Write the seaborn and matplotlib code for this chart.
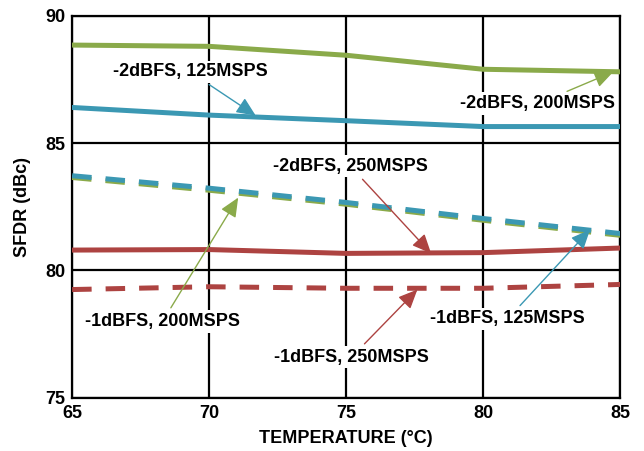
import matplotlib
matplotlib.use("Agg")
import matplotlib.pyplot as plt
import seaborn as sns
import pandas as pd

# temperatures and SFDR readings (dBc)
temperature = [65, 70, 75, 80, 85]
sfdr_2dbfs_200 = [88.85, 88.8, 88.45, 87.9, 87.8]
sfdr_2dbfs_125 = [86.4, 86.1, 85.88, 85.65, 85.65]
sfdr_1dbfs_200 = [83.65, 83.15, 82.6, 81.97, 81.38]
sfdr_1dbfs_125 = [83.72, 83.23, 82.67, 82.04, 81.45]
sfdr_2dbfs_250 = [80.8, 80.82, 80.67, 80.7, 80.88]
sfdr_1dbfs_250 = [79.25, 79.36, 79.3, 79.3, 79.45]

green = "#8aaa4a"
blue = "#3b98b3"
red = "#ad4341"

sns.set_style("white")
plt.rcParams["font.family"] = ["Liberation Sans", "DejaVu Sans"]
plt.rcParams["font.weight"] = "bold"
plt.rcParams.update({"text.color": "black", "axes.labelcolor": "black",
                     "xtick.color": "black", "ytick.color": "black"})

fig = plt.figure(figsize=(6.44, 4.51), dpi=100)
ax = fig.add_axes([0.112, 0.118, 0.851, 0.847])

dash = (0, (3.9, 2.8))
series = [
    (sfdr_2dbfs_200, green, "-", 3.6),
    (sfdr_2dbfs_125, blue, "-", 3.6),
    (sfdr_1dbfs_200, green, dash, 3.6),
    (sfdr_1dbfs_125, blue, dash, 3.6),
    (sfdr_2dbfs_250, red, "-", 3.6),
    (sfdr_1dbfs_250, red, dash, 3.6),
]
for vals, col, ls, lw in series:
    df = pd.DataFrame({"temp": temperature, "sfdr": vals})
    sns.lineplot(data=df, x="temp", y="sfdr", color=col, linewidth=lw,
                 linestyle=ls, ax=ax, zorder=3)

ax.set_xlim(65, 85)
ax.set_ylim(75, 90)
ax.set_xticks([65, 70, 75, 80, 85])
ax.set_yticks([75, 80, 85, 90])
ax.grid(True, color="black", linewidth=1.6, zorder=0)
ax.set_axisbelow(True)
for s in ax.spines.values():
    s.set_color("black")
    s.set_linewidth(1.6)
ax.tick_params(labelsize=13, length=0, pad=5, colors="black")
for lbl in ax.get_xticklabels() + ax.get_yticklabels():
    lbl.set_fontweight("bold")
ax.set_xlabel("TEMPERATURE (°C)", fontsize=13, fontweight="bold", labelpad=6)
ax.set_ylabel("SFDR (dBc)", fontsize=13, fontweight="bold", labelpad=10)

box = dict(boxstyle="square,pad=0.15", fc="white", ec="none")
notes = [
    ("-2dBFS, 125MSPS", (71.7, 86.08), (69.3, 87.8), blue),
    ("-2dBFS, 200MSPS", (84.75, 87.8), (82.0, 86.55), green),
    ("-2dBFS, 250MSPS", (78.1, 80.67), (75.15, 84.1), red),
    ("-1dBFS, 200MSPS", (71.06, 82.86), (68.3, 78.0), green),
    ("-1dBFS, 125MSPS", (83.9, 81.6), (80.9, 78.1), blue),
    ("-1dBFS, 250MSPS", (77.6, 79.25), (75.2, 76.6), red),
]
for txt, xy, xytext, col in notes:
    ax.annotate(txt, xy=xy, xytext=xytext, ha="center", va="center",
                fontsize=13, fontweight="bold", color="black", bbox=box, zorder=5,
                arrowprops=dict(arrowstyle="-|>,head_length=0.9,head_width=0.4",
                                color=col, lw=1.0, shrinkA=2, shrinkB=0))

fig.savefig("out.png", dpi=100)
